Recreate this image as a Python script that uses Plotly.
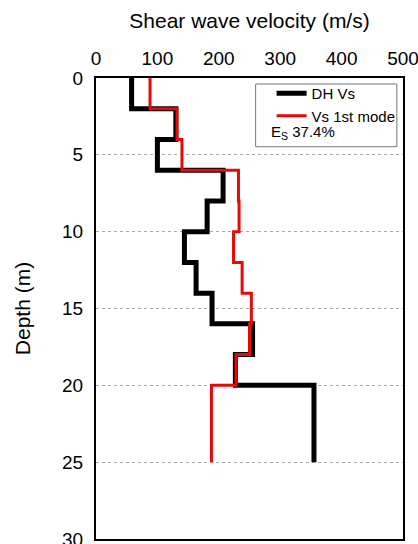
import plotly.graph_objects as go

# Layer top depths (m) and shear-wave velocities (m/s)
dh_depth = [0, 2, 4, 6, 8, 10, 12, 14, 16, 18, 20]
dh_vs = [58, 130, 100, 207, 181, 144, 163, 189, 255, 227, 355]
mode_depth = [0, 2, 4, 6, 8, 10, 12, 14, 16, 18, 20]
mode_vs = [88, 132, 140, 232, 233, 224, 238, 253, 250, 228, 188]
end_depth = 25
es_text = "E<sub>S</sub> 37.4%"

fig = go.Figure()
fig.add_trace(go.Scatter(
    x=dh_vs + [dh_vs[-1]], y=dh_depth + [end_depth], mode="lines",
    line=dict(color="black", width=5, shape="vh"), name="DH Vs"))
fig.add_trace(go.Scatter(
    x=mode_vs + [mode_vs[-1]], y=mode_depth + [end_depth], mode="lines",
    line=dict(color="rgb(228,10,10)", width=3, shape="vh"), name="Vs 1st mode"))

fig.update_layout(
    width=418, height=544,
    margin=dict(l=96, r=15, t=78, b=5, autoexpand=False),
    paper_bgcolor="white", plot_bgcolor="white",
    font=dict(family="Liberation Sans, Arial, sans-serif", color="black", size=19),
    showlegend=True,
    legend=dict(x=0.572, y=1.002, xanchor="left", yanchor="top",
                bgcolor="rgba(0,0,0,0)", borderwidth=0,
                font=dict(size=15), tracegroupgap=0, itemwidth=30),
    xaxis=dict(side="top", range=[0, 500], tickvals=[0, 100, 200, 300, 400, 500],
               showgrid=False, zeroline=False, showline=True, linecolor="black",
               linewidth=2, mirror=True, ticks="", ticklabelstandoff=3,
               ticklabeloverflow="allow", tickfont=dict(size=19), automargin=False,
               title=dict(text="Shear wave velocity (m/s)", font=dict(size=21), standoff=14)),
    yaxis=dict(range=[30, 0], tickvals=[0, 5, 10, 15, 20, 25, 30],
               showgrid=True, gridcolor="#aaaaaa", griddash="dot", gridwidth=1,
               zeroline=False, showline=True, linecolor="black", linewidth=2,
               mirror=True, ticks="", ticklabelstandoff=7, ticklabeloverflow="allow",
               tickfont=dict(size=19), automargin=False,
               title=dict(text="Depth (m)", font=dict(size=21), standoff=26)),
)

fig.add_shape(type="rect", xref="paper", yref="paper",
              x0=0.52, x1=0.98, y0=0.851, y1=0.987,
              line=dict(color="#777777", width=1), fillcolor="rgba(0,0,0,0)")
fig.add_annotation(text=es_text, xref="paper", yref="paper",
                   x=0.562, y=0.881, xanchor="left", yanchor="middle",
                   showarrow=False, font=dict(size=15))

fig.write_html("out.html")
